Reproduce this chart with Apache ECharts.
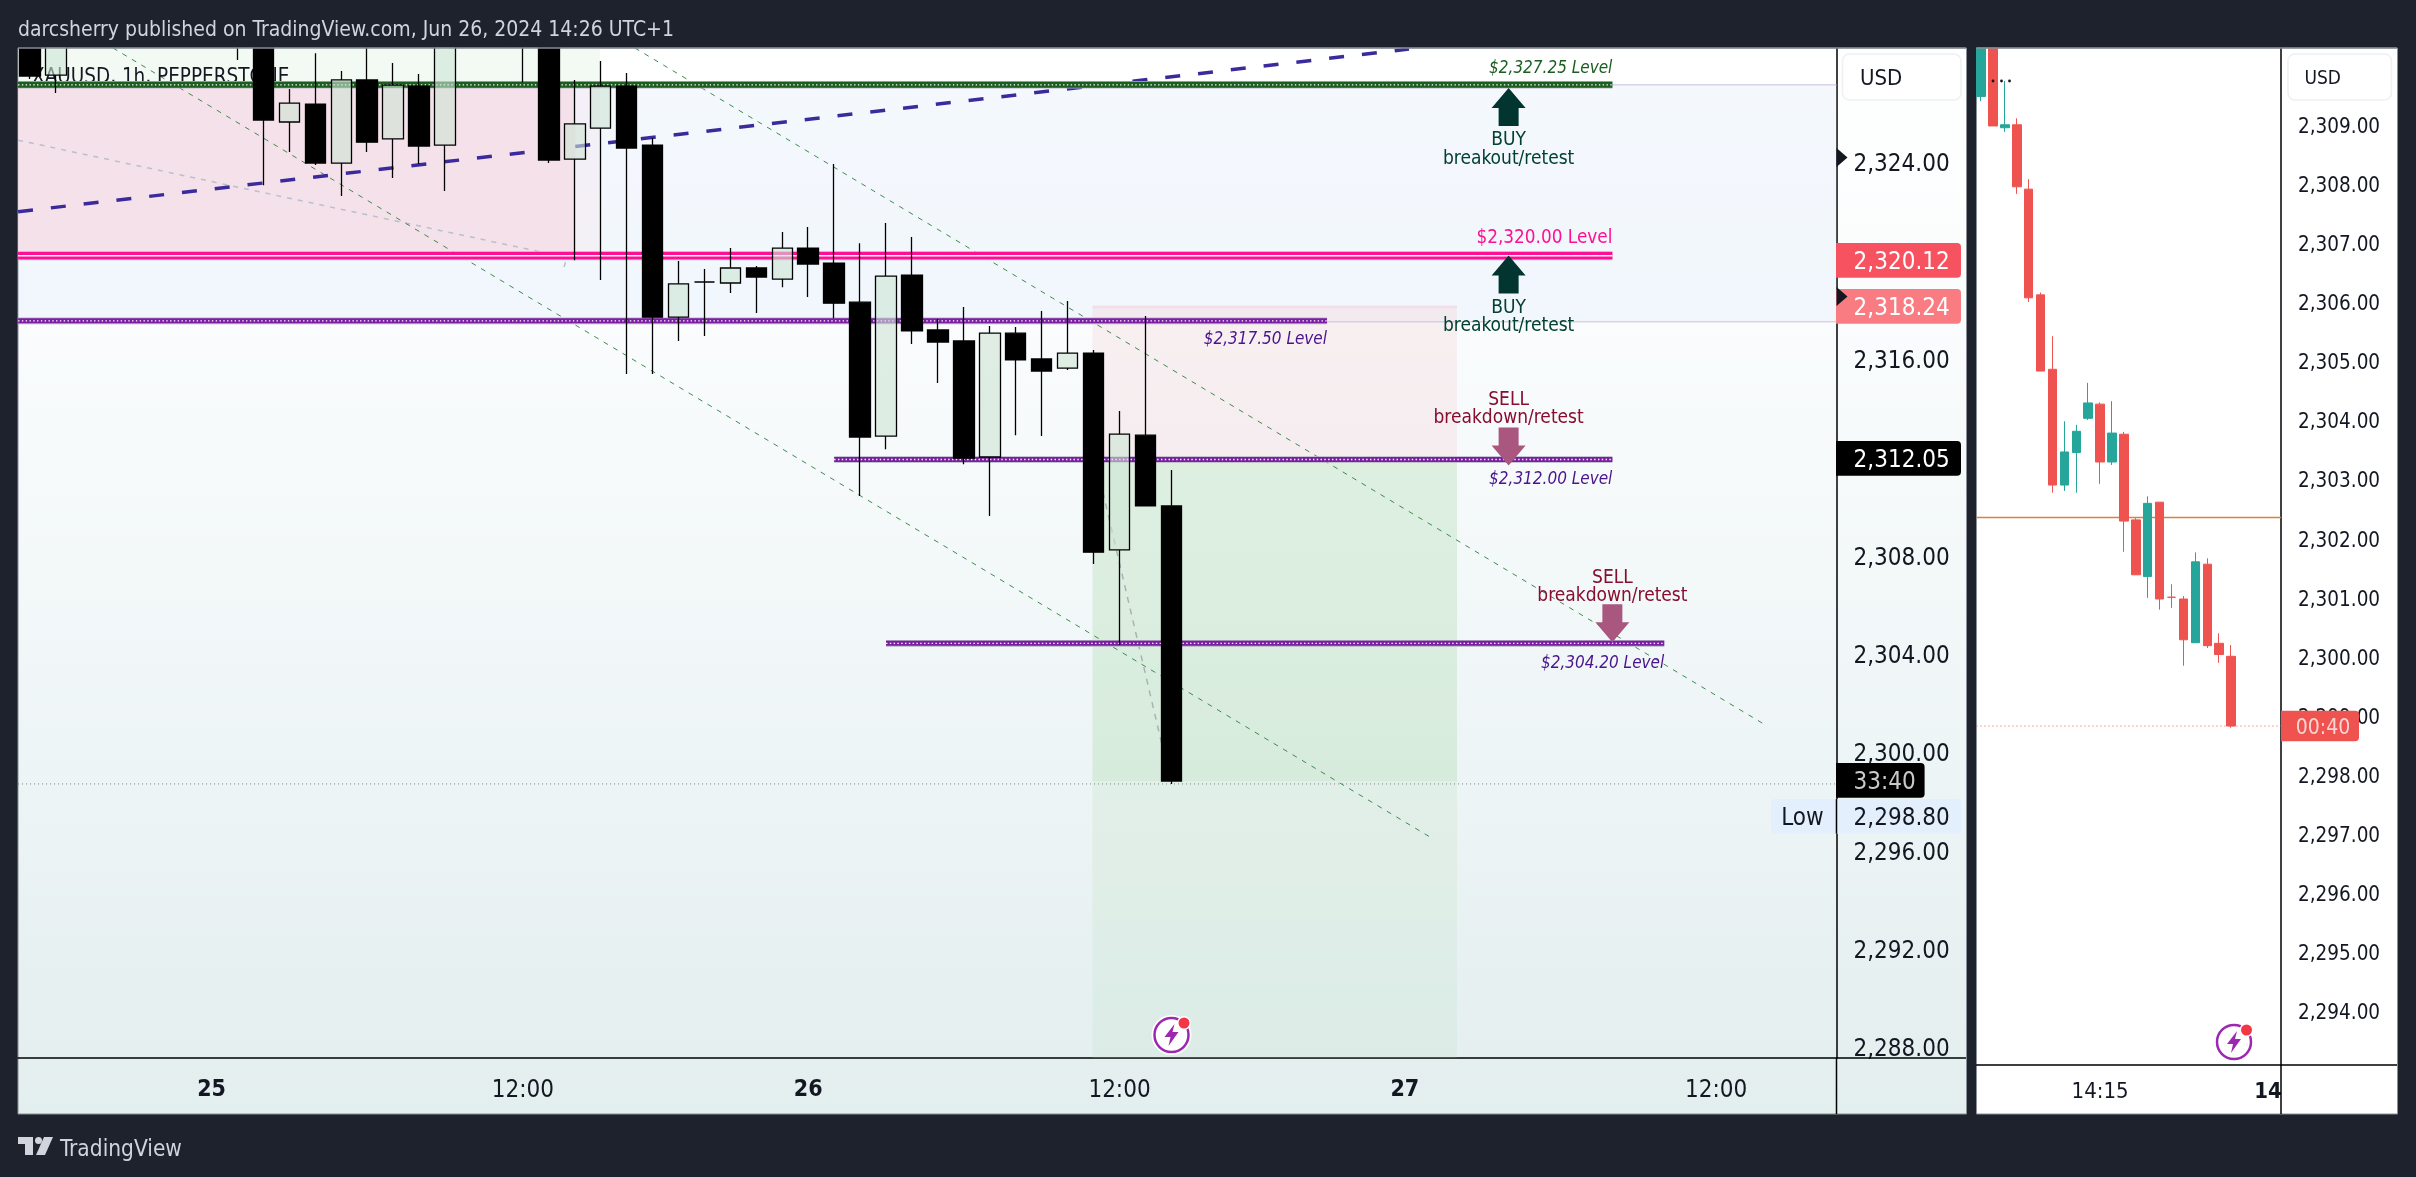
<!DOCTYPE html>
<html>
<head>
<meta charset="utf-8">
<title>XAUUSD</title>
<style>
  html, body { margin: 0; padding: 0; background: #1e222d; }
  #main { width: 2416px; height: 1177px; }
</style>
<script src="https://cdn.jsdelivr.net/npm/echarts@6/dist/echarts.min.js"></script>
</head>
<body>
<div id="main"></div>
<script>
// 1h candles, left chart. x is the bar number on the time scale
const barIndex = [0, 1, 8, 9, 10, 11, 12, 13, 14, 15, 16, 19, 20, 21, 22, 23, 24, 25, 26, 27, 28, 29, 30, 31, 32, 33, 34, 35, 36, 37, 38, 39, 40, 41, 42, 43, 44];
const openPrice = [2329.2, 2327.54, 2329.2, 2329.4, 2325.63, 2326.36, 2323.96, 2327.34, 2324.94, 2327.09, 2324.69, 2329.0, 2329.2, 2324.12, 2325.38, 2327.09, 2324.69, 2317.69, 2319.12, 2319.08, 2319.69, 2319.24, 2320.5, 2319.89, 2318.3, 2312.85, 2319.4, 2317.17, 2316.72, 2312.0, 2317.04, 2315.99, 2315.62, 2316.23, 2308.22, 2312.89, 2310.01];
const closePrice = [2327.5, 2329.5, 2329.6, 2325.71, 2326.4, 2323.96, 2327.34, 2324.81, 2327.13, 2324.65, 2329.0, 2328.8, 2324.08, 2325.55, 2327.09, 2324.57, 2317.69, 2319.04, 2319.12, 2319.69, 2319.32, 2320.5, 2319.85, 2318.26, 2312.81, 2319.36, 2317.13, 2316.68, 2311.96, 2317.04, 2315.95, 2315.5, 2316.23, 2308.13, 2312.93, 2310.01, 2298.82];
const lowPrice = [2327.38, 2326.81, 2328.15, 2323.06, 2324.41, 2323.88, 2322.62, 2324.41, 2323.35, 2323.92, 2322.82, 2327.25, 2323.96, 2320.01, 2319.2, 2315.38, 2315.38, 2316.72, 2316.92, 2318.67, 2317.86, 2318.91, 2318.51, 2317.65, 2310.41, 2312.32, 2316.6, 2315.01, 2311.71, 2309.6, 2312.89, 2312.85, 2315.54, 2307.65, 2304.35, 2310.01, 2298.7];
const highPrice = [2329.6, 2329.9, 2330.0, 2329.8, 2326.97, 2328.43, 2327.7, 2329.0, 2328.03, 2327.58, 2329.5, 2329.4, 2329.6, 2327.34, 2328.11, 2327.62, 2324.98, 2319.97, 2319.65, 2320.5, 2319.77, 2321.15, 2321.36, 2323.92, 2320.7, 2321.52, 2320.95, 2317.61, 2318.1, 2317.33, 2317.29, 2317.94, 2318.35, 2316.35, 2313.87, 2317.74, 2311.47];

// 1m candles, right chart
const miniOpen = [2309.48, 2311.0, 2308.95, 2309.0, 2307.91, 2306.12, 2304.86, 2302.9, 2303.45, 2304.03, 2304.27, 2303.29, 2303.76, 2302.31, 2301.35, 2302.61, 2301.0, 2300.97, 2300.23, 2301.56, 2300.22, 2300.0];
const miniClose = [2311.0, 2308.98, 2309.0, 2307.95, 2306.07, 2304.83, 2302.9, 2303.46, 2303.81, 2304.29, 2303.29, 2303.78, 2302.29, 2301.38, 2302.59, 2300.97, 2301.0, 2300.28, 2301.6, 2300.18, 2300.03, 2298.82];
const miniLow = [2309.4, 2308.98, 2308.88, 2307.83, 2306.0, 2304.83, 2302.77, 2302.8, 2302.77, 2304.0, 2302.92, 2303.24, 2301.77, 2301.38, 2300.99, 2300.79, 2300.82, 2299.84, 2300.23, 2300.14, 2299.89, 2298.79];
const miniHigh = [2311.2, 2311.2, 2309.74, 2309.11, 2308.08, 2306.16, 2305.42, 2303.98, 2303.92, 2304.63, 2304.3, 2304.32, 2303.8, 2302.34, 2302.71, 2302.61, 2301.22, 2301.02, 2301.76, 2301.66, 2300.39, 2300.19];

// axis ticks
const priceTicks = [2288, 2292, 2296, 2300, 2304, 2308, 2316, 2324];
const miniPriceTicks = [2294, 2295, 2296, 2297, 2298, 2299, 2300, 2301, 2302, 2303, 2304, 2305, 2306, 2307, 2308, 2309];
const timeTicks = [7, 19, 30, 42, 53, 65];
const timeLabels = ["25", "12:00", "26", "12:00", "27", "12:00"];
const miniTimeTicks = [10, 24.1];
const miniTimeLabels = ["14:15", "14"];

// horizontal levels
const levelPrice = [2327.14, 2320.19, 2317.54, 2311.9, 2304.42];
const levelStart = [-0.46, -0.46, -0.46, 31, 33];
const levelEnd = [61, 61, 50, 61, 63];
const levelColor = ["#1b5e20", "#ff0f96", "#7b1fa2", "#7b1fa2", "#7b1fa2"];

// level captions
const captionText = ["$2,327.25 Level", "$2,320.00 Level", "$2,317.50 Level", "$2,312.00 Level", "$2,304.20 Level"];
const captionBar = [61, 61, 50, 61, 63];
const captionPrice = [2327.92, 2321.0, 2316.87, 2311.2, 2303.71];
const captionColor = ["#1b5e20", "#ff0f96", "#4a148c", "#4a148c", "#4a148c"];

// buy / sell notes
const noteText = ["BUY", "breakout/retest", "BUY", "breakout/retest", "SELL", "breakdown/retest", "SELL", "breakdown/retest"];
const noteBar = [57, 57, 57, 57, 57, 57, 61, 61];
const notePrice = [2324.99, 2324.24, 2318.15, 2317.41, 2314.41, 2313.68, 2307.17, 2306.43];
const noteColor = ["#024030", "#024030", "#024030", "#024030", "#880e2f", "#880e2f", "#880e2f", "#880e2f"];

// arrows, price is the tip
const arrowBar = [57, 57, 57, 61];
const arrowPrice = [2327.01, 2320.2, 2311.65, 2304.46];
const arrowSide = ["up", "up", "down", "down"];

// coloured zones: bar from, bar to, price low, price high
const zoneBarFrom = [-0.46, -0.46, -0.46, -0.46, 40.96, 40.96, 40.96, 40.96];
const zoneBarTo = [69.64, 21.97, 21.03, 21.97, 55.01, 55.01, 55.01, 55.01];
const zoneLow = [2317.54, 2327.25, 2320.3, 2320.3, 2311.92, 2318.05, 2298.82, 2287.55];
const zoneHigh = [2327.14, 2328.64, 2327.13, 2327.13, 2318.15, 2318.15, 2311.92, 2298.82];
const zoneColor = ["rgba(215,232,250,0.25)", "rgba(232,245,233,0.5)", "rgba(244,217,226,0.75)", "rgba(245,225,235,0.35)", "rgba(242,210,215,0.32)", "rgba(245,190,210,0.3)", "rgba(165,214,167,0.3)", "rgba(165,214,167,0.15)"];

// drawn trend lines, two points each
const channelLowBars = [3.2, 53.97];
const channelLowPrices = [2328.64, 2296.54];
const channelHighBars = [23.32, 66.96];
const channelHighPrices = [2328.64, 2301.06];
const risingBars = [-0.46, 53.16];
const risingPrices = [2321.98, 2328.6];
const fadedBars = [-0.46, 19.7];
const fadedPrices = [2324.89, 2320.34];
const fadedTickBars = [20.59, 20.78];
const fadedTickPrices = [2319.73, 2320.46];
const fadedSteepBars = [41.25, 43.64];
const fadedSteepPrices = [2311.06, 2300.28];

const lastPrice = 2298.7;
const miniLastPrice = 2298.82;
const miniOrangePrice = 2302.35;

const FONT = '"DejaVu Sans Condensed","Noto Sans",sans-serif';
const DARK = "#1e222d";
// this font sits a bit high when centred, push text down to match
const TEXT_NUDGE = 2.5;

function money(v) {
  return v.toLocaleString("en-US", { minimumFractionDigits: 2, maximumFractionDigits: 2 });
}
function priceLabel(v) {
  return "{p|" + money(v) + "}";
}
function priceRich(size) {
  return { p: { fontFamily: FONT, fontSize: size, color: "#131722", padding: [6, 0, 0, 0] } };
}
function pairs(xs, ys) {
  return xs.map((x, i) => [x, ys[i]]);
}
function twoPoints(xs, ys, color, width, dash, z) {
  return {
    type: "line", xAxisIndex: 0, yAxisIndex: 0, data: pairs(xs, ys), showSymbol: false, silent: true, z: z,
    lineStyle: { color: color, width: width, type: dash }
  };
}

// page furniture that is not data: panels, separators, price badges
function label(text, x, y, size, color, align, z, extra) {
  return {
    type: "text", z: z, silent: true,
    style: Object.assign({ text: text, x: x, y: y + TEXT_NUDGE, fill: color, fontSize: size, fontFamily: FONT, align: align || "left", verticalAlign: "middle" }, extra || {})
  };
}
function box(x, y, w, h, fill, r, z) {
  return { type: "rect", z: z, silent: true, shape: { x: x, y: y, width: w, height: h, r: r || 0 }, style: { fill: fill } };
}
function rule(x1, y1, x2, y2, color, z) {
  return { type: "line", z: z, silent: true, shape: { x1: x1, y1: y1, x2: x2, y2: y2 }, style: { stroke: color, lineWidth: 1.5 } };
}
function boltIcon(cx, cy) {
  return [
    { type: "circle", z: 6, silent: true, shape: { cx: cx, cy: cy, r: 20 }, style: { fill: "#fff" } },
    { type: "circle", z: 6, silent: true, shape: { cx: cx, cy: cy, r: 17 }, style: { fill: "#fff", stroke: "#9c27b0", lineWidth: 2.5 } },
    { type: "polygon", z: 6, silent: true, shape: { points: [[cx + 3, cy - 11], [cx - 7, cy + 2], [cx - 1, cy + 2], [cx - 3, cy + 11], [cx + 7, cy - 3], [cx + 1, cy - 3]] }, style: { fill: "#9c27b0" } },
    { type: "circle", z: 6, silent: true, shape: { cx: cx + 12.5, cy: cy - 12, r: 7 }, style: { fill: "#fff" } },
    { type: "circle", z: 6, silent: true, shape: { cx: cx + 12.5, cy: cy - 12, r: 5.5 }, style: { fill: "#f23645" } }
  ];
}
const panelGradient = {
  type: "linear", x: 0, y: 0, x2: 0, y2: 1,
  colorStops: [
    { offset: 0, color: "#ffffff" },
    { offset: 0.25, color: "#fafcfd" },
    { offset: 0.5, color: "#f3f8f9" },
    { offset: 1, color: "#e3eeef" }
  ]
};
const chrome = [
  // panels
  { type: "rect", z: -2, silent: true, shape: { x: 18, y: 48, width: 1948.5, height: 1066 }, style: { fill: panelGradient, stroke: "#8a8e96", lineWidth: 1 } },
  { type: "rect", z: -2, silent: true, shape: { x: 1976.5, y: 48, width: 421, height: 1066 }, style: { fill: "#ffffff", stroke: "#8a8e96", lineWidth: 1 } },
  // candles are not clipped by the grid, the header strip hides what sticks out
  box(0, 0, 2416, 47.5, DARK, 0, 4),
  rule(18, 48, 1966, 48, "#8a8e96", 5),
  rule(1976.5, 48, 2397, 48, "#8a8e96", 5),
  // header, watermark title, footer
  label("darcsherry published on TradingView.com, Jun 26, 2024 14:26 UTC+1", 18, 28, 21, "#d1d4dc", "left", 7),
  label("XAUUSD, 1h, PEPPERSTONE", 32, 75, 20.5, "#131722", "left", 2),
  label("TradingView", 60, 1148, 22.5, "#d1d4dc", "left", 7),
  { type: "polygon", z: 7, silent: true, shape: { points: [[18, 1137], [33, 1137], [33, 1155], [25, 1155], [25, 1144], [18, 1144]] }, style: { fill: "#d1d4dc" } },
  { type: "circle", z: 7, silent: true, shape: { cx: 38.5, cy: 1140.5, r: 3.5 }, style: { fill: "#d1d4dc" } },
  { type: "polygon", z: 7, silent: true, shape: { points: [[44, 1137], [53, 1137], [45, 1155], [36, 1155]] }, style: { fill: "#d1d4dc" } },
  // axis separators that run past the plot
  rule(1836.5, 1058, 1966, 1058, "#000", 1),
  rule(1836.5, 1058, 1836.5, 1114, "#000", 1),
  rule(2281, 1065, 2397, 1065, "#000", 1),
  rule(2281, 1065, 2281, 1114, "#000", 1),
  // USD buttons
  { type: "rect", z: 5, silent: true, shape: { x: 1842.5, y: 54, width: 118.5, height: 46, r: 7 }, style: { fill: "#fff", stroke: "#eef0f3", lineWidth: 1.5 } },
  label("USD", 1860, 76.5, 22, "#131722", "left", 6),
  { type: "rect", z: 5, silent: true, shape: { x: 2288, y: 54, width: 103.5, height: 46, r: 7 }, style: { fill: "#fff", stroke: "#eef0f3", lineWidth: 1.5 } },
  label("USD", 2304.5, 76.5, 19, "#131722", "left", 6),
  // price badges, left scale
  box(1836, 243, 125, 34.7, "#f7525f", [0, 4, 4, 0], 8),
  label("2,320.12", 1853.6, 260, 24, "#ffffff", "left", 9),
  box(1836, 289, 125, 34.7, "#f97c82", [0, 4, 4, 0], 8),
  label("2,318.24", 1853.6, 306.5, 24, "#ffffff", "left", 9),
  box(1836, 441, 125, 34.7, "#000000", [0, 4, 4, 0], 8),
  label("2,312.05", 1853.6, 458, 24, "#ffffff", "left", 9),
  box(1836, 763, 88.6, 34.7, "#000000", [0, 4, 4, 0], 8),
  label("33:40", 1853.6, 780, 24, "#c9c9c9", "left", 9),
  box(1771, 799, 190, 34.7, "#e3effd", 4, 8),
  rule(1836.5, 799, 1836.5, 833.7, "#000", 9),
  label("Low", 1802.5, 816, 24, "#131722", "center", 9),
  label("2,298.80", 1853.6, 816, 24, "#131722", "left", 9),
  // bar-scale markers
  { type: "polygon", z: 9, silent: true, shape: { points: [[1836.5, 148], [1847.5, 157.5], [1836.5, 167]] }, style: { fill: "#131722" } },
  { type: "polygon", z: 9, silent: true, shape: { points: [[1836.5, 287], [1847.5, 296.5], [1836.5, 306]] }, style: { fill: "#131722" } },
  // countdown badge, right scale
  box(2281, 710.7, 78, 30.6, "#ef5350", [0, 4, 4, 0], 8),
  label("00:40", 2323, 726, 21, "rgba(255,255,255,0.75)", "center", 9),
  // three dots of the collapsed legend
  { type: "circle", z: 7, silent: true, shape: { cx: 1993, cy: 81, r: 1.4 }, style: { fill: "#131722" } },
  { type: "circle", z: 7, silent: true, shape: { cx: 2001.5, cy: 81, r: 1.4 }, style: { fill: "#131722" } },
  { type: "circle", z: 7, silent: true, shape: { cx: 2009.5, cy: 81, r: 1.4 }, style: { fill: "#131722" } }
].concat(boltIcon(1171.5, 1035), boltIcon(2234, 1042));

// level lines: pale edge, solid stroke, white centre
const levelSeries = [];
levelPrice.forEach((price, i) => {
  const xs = [levelStart[i], levelEnd[i]];
  const ys = [price, price];
  const pink = i === 1;
  const green = i === 0;
  levelSeries.push(twoPoints(xs, ys, "#b6b3c4", pink ? 9 : (green ? 7.5 : 6.6), "solid", 2));
  levelSeries.push(twoPoints(xs, ys, levelColor[i], pink ? 7.2 : (green ? 6 : 5), "solid", 2));
  levelSeries.push(twoPoints(xs, ys, "#ffffff", pink ? 1.5 : 1.4, pink ? "solid" : [1.4, 2.4], 2));
});

const candleRows = barIndex.map((x, i) => [x, openPrice[i], closePrice[i], lowPrice[i], highPrice[i]]);
const miniRows = miniOpen.map((o, i) => [i, o, miniClose[i], miniLow[i], miniHigh[i]]);

// whole days and hours get a heavier label, as on the original time scale
function timeRich(size) {
  return { day: { fontFamily: FONT, fontWeight: "bold", fontSize: size, color: "#131722" } };
}

let myChart = echarts.init(document.getElementById("main"), null, { renderer: "canvas", width: 2416, height: 1177 });

let option = {
  backgroundColor: DARK,
  animation: false,
  textStyle: { fontFamily: FONT },
  graphic: { elements: chrome },
  grid: [
    { left: 18, top: 48, width: 1818.5, height: 1010 },
    { left: 1976.5, top: 48, width: 304.5, height: 1017 }
  ],
  xAxis: [
    {
      type: "value", gridIndex: 0, min: -0.463, max: 69.64, splitLine: { show: false },
      axisLine: { onZero: false, lineStyle: { color: "#000", width: 1.5 } }, axisTick: { show: false },
      axisLabel: {
        customValues: timeTicks, margin: 21, fontFamily: FONT, color: "#131722", fontSize: 24,
        rich: timeRich(23),
        formatter: v => {
          const text = timeLabels[timeTicks.indexOf(v)];
          return text.indexOf(":") < 0 ? "{day|" + text + "}" : text;
        }
      }
    },
    {
      type: "value", gridIndex: 1, min: -0.38, max: 25.19, splitLine: { show: false },
      axisLine: { onZero: false, lineStyle: { color: "#000", width: 1.5 } }, axisTick: { show: false },
      axisLabel: {
        customValues: miniTimeTicks, margin: 16, fontFamily: FONT, color: "#131722", fontSize: 22,
        rich: timeRich(22),
        formatter: v => {
          const text = miniTimeLabels[miniTimeTicks.indexOf(v)];
          return text.indexOf(":") < 0 ? "{day|" + text + "}" : text;
        }
      }
    }
  ],
  yAxis: [
    {
      type: "value", gridIndex: 0, position: "right", min: 2287.55, max: 2328.64, scale: true, splitLine: { show: false },
      axisLine: { show: true, onZero: false, lineStyle: { color: "#000", width: 1.5 } }, axisTick: { show: false },
      axisLabel: { customValues: priceTicks, margin: 17, fontFamily: FONT, color: "#131722", fontSize: 24, rich: priceRich(24), formatter: priceLabel, hideOverlap: false }
    },
    {
      type: "value", gridIndex: 1, position: "right", min: 2293.08, max: 2310.3, scale: true, splitLine: { show: false },
      axisLine: { show: true, onZero: false, lineStyle: { color: "#000", width: 1.5 } }, axisTick: { show: false },
      axisLabel: { customValues: miniPriceTicks, margin: 17, fontFamily: FONT, color: "#131722", fontSize: 20.5, rich: priceRich(20.5), formatter: priceLabel, hideOverlap: false }
    }
  ],
  series: [
    {
      // zones
      type: "custom", xAxisIndex: 0, yAxisIndex: 0, z: 1, silent: true,
      data: zoneBarFrom.map((x, i) => [x, zoneLow[i], zoneBarTo[i], zoneHigh[i]]),
      renderItem: function(params, api) {
        const a = api.coord([api.value(0), api.value(1)]);
        const b = api.coord([api.value(2), api.value(3)]);
        return {
          type: "rect",
          shape: { x: a[0], y: b[1], width: b[0] - a[0], height: a[1] - b[1] },
          style: { fill: zoneColor[params.dataIndex] }
        };
      }
    },
    // thin price lines that carry on to the scale
    twoPoints([61, 69.64], [2327.14, 2327.14], "#c5bfe0", 1, "solid", 1),
    twoPoints([50, 69.64], [2317.5, 2317.5], "#c5bfe0", 1, "solid", 1),
    twoPoints([-0.46, 69.64], [lastPrice, lastPrice], "#808080", 1, [1, 3], 1),
    twoPoints(fadedBars, fadedPrices, "#b8c0cc", 1.5, [5, 6], 1),
    twoPoints(fadedTickBars, fadedTickPrices, "#b8c0cc", 1.5, [5, 6], 1),
    twoPoints(fadedSteepBars, fadedSteepPrices, "#a8b4b4", 1.5, [6, 6], 1),
    twoPoints(channelLowBars, channelLowPrices, "#3f8a4c", 1, [5, 6], 1),
    twoPoints(channelHighBars, channelHighPrices, "#3f8a4c", 1, [5, 6], 1),
    twoPoints(risingBars, risingPrices, "#3a2a9c", 3.5, [15, 18], 1)
  ].concat(levelSeries, [
    {
      type: "candlestick", xAxisIndex: 0, yAxisIndex: 0, z: 3, silent: true,
      barWidth: 21, data: candleRows,
      itemStyle: {
        color: "rgba(205,228,212,0.6)", color0: "#000000",
        borderColor: "#000000", borderColor0: "#000000", borderColorDoji: "#000000", borderWidth: 1.3
      }
    },
    {
      type: "candlestick", xAxisIndex: 1, yAxisIndex: 1, z: 3, silent: true,
      barWidth: 9, data: miniRows,
      itemStyle: {
        color: "#26a69a", color0: "#ef5350",
        borderColor: "#26a69a", borderColor0: "#ef5350", borderColorDoji: "#ef5350", borderWidth: 1
      }
    },
    {
      type: "line", xAxisIndex: 1, yAxisIndex: 1, z: 2, showSymbol: false, silent: true,
      data: [[-0.38, miniOrangePrice], [25.19, miniOrangePrice]],
      lineStyle: { color: "#d8843f", width: 1.5 }
    },
    {
      type: "line", xAxisIndex: 1, yAxisIndex: 1, z: 4, showSymbol: false, silent: true,
      data: [[-0.38, miniLastPrice], [25.19, miniLastPrice]],
      lineStyle: { color: "#ef5350", width: 1, type: [1, 3] }
    },
    {
      // arrows
      type: "custom", xAxisIndex: 0, yAxisIndex: 0, z: 4, silent: true,
      data: arrowBar.map((x, i) => [x, arrowPrice[i]]),
      renderItem: function(params, api) {
        const tip = api.coord([api.value(0), api.value(1)]);
        const up = arrowSide[params.dataIndex] === "up";
        const s = up ? 1 : -1;
        const x = tip[0];
        const y = tip[1];
        return {
          type: "polygon",
          shape: {
            points: [[x, y], [x + 17, y + 20 * s], [x + 10, y + 20 * s], [x + 10, y + 38 * s], [x - 10, y + 38 * s], [x - 10, y + 20 * s], [x - 17, y + 20 * s]]
          },
          style: { fill: up ? "#023430" : "#aa5780" }
        };
      }
    },
    {
      // level captions
      type: "custom", xAxisIndex: 0, yAxisIndex: 0, z: 5, silent: true,
      data: captionBar.map((x, i) => [x, captionPrice[i]]),
      renderItem: function(params, api) {
        const p = api.coord([api.value(0), api.value(1)]);
        const i = params.dataIndex;
        return {
          type: "text",
          style: {
            text: captionText[i], x: p[0], y: p[1] + TEXT_NUDGE, fill: captionColor[i], align: "right", verticalAlign: "middle",
            font: (i === 1 ? "18.8px " : "italic 17px ") + FONT
          }
        };
      }
    },
    {
      // buy and sell notes
      type: "custom", xAxisIndex: 0, yAxisIndex: 0, z: 5, silent: true,
      data: noteBar.map((x, i) => [x, notePrice[i]]),
      renderItem: function(params, api) {
        const p = api.coord([api.value(0), api.value(1)]);
        const i = params.dataIndex;
        return {
          type: "text",
          style: { text: noteText[i], x: p[0], y: p[1] + TEXT_NUDGE, fill: noteColor[i], align: "center", verticalAlign: "middle", font: "19px " + FONT }
        };
      }
    }
  ])
};

myChart.setOption(option);
</script>
</body>
</html>
